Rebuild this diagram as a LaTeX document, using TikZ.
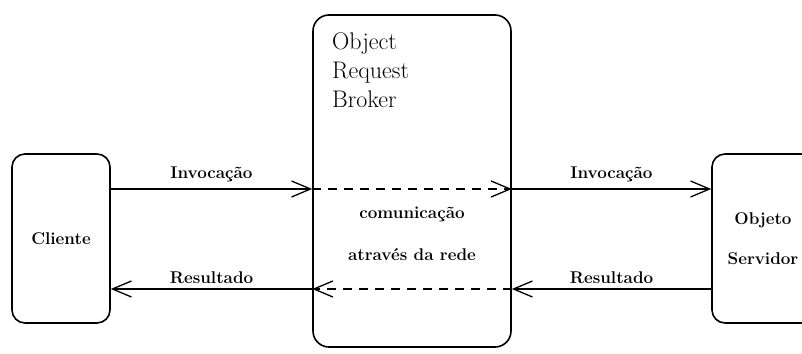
\documentclass[tikz,border=0pt]{standalone}
\usepackage{fontspec}
\usetikzlibrary{arrows.meta}

\tikzset{
  box/.style={draw, line width=1.6pt, rounded corners=13pt, inner sep=0pt, align=center},
  lbl/.style={font=\fontsize{17}{20}\selectfont\bfseries},
  msg/.style={line width=1.3pt, -{Straight Barb[length=19pt,width=16pt,line width=1.3pt]}},
  net/.style={msg, dash pattern=on 9pt off 7pt}
}

\begin{document}
\begin{tikzpicture}[x=1pt, y=-1pt]
  \clip (0,0) rectangle (802,353);
  \node[box, lbl, minimum width=98pt, minimum height=169pt] (cl) at (61,238.5) {Cliente};
  \node[box, rounded corners=16pt, minimum width=198pt, minimum height=332pt] (orb) at (412,181) {};
  \node[box, font=\fontsize{17}{40}\selectfont\bfseries, minimum width=102pt, minimum height=169pt] (srv) at (763,238.5) {Objeto\\Servidor};
  \node[anchor=north west, inner sep=0pt, align=left, font=\fontsize{24}{29}\selectfont] (orbt) at (332,33) {Object\\Request\\Broker};
  \node[font=\fontsize{17}{42}\selectfont\bfseries, align=center] (rede) at (412,234) {comunicação\\através da rede};

  % portas das mensagens
  \coordinate (inv) at (0,189);
  \coordinate (res) at (0,289);
  \coordinate (cl-i) at (cl.east |- inv);
  \coordinate (cl-r) at (cl.east |- res);
  \coordinate (orbw-i) at (orb.west |- inv);
  \coordinate (orbw-r) at (orb.west |- res);
  \coordinate (orbe-i) at (orb.east |- inv);
  \coordinate (orbe-r) at (orb.east |- res);
  \coordinate (srv-i) at (srv.west |- inv);
  \coordinate (srv-r) at (srv.west |- res);

  \path[msg]
  (cl-i) edge node [lbl, above, inner sep=6pt] {Invocação} (orbw-i)
  (orbe-i) edge node [lbl, above, inner sep=6pt] {Invocação} (srv-i)
  (srv-r) edge node [lbl, above, inner sep=5pt] {Resultado} (orbe-r)
  (orbw-r) edge node [lbl, above, inner sep=5pt] {Resultado} (cl-r)
  ;
  \path[net]
  (orbw-i) edge (orbe-i)
  (orbe-r) edge (orbw-r)
  ;
\end{tikzpicture}
\end{document}
